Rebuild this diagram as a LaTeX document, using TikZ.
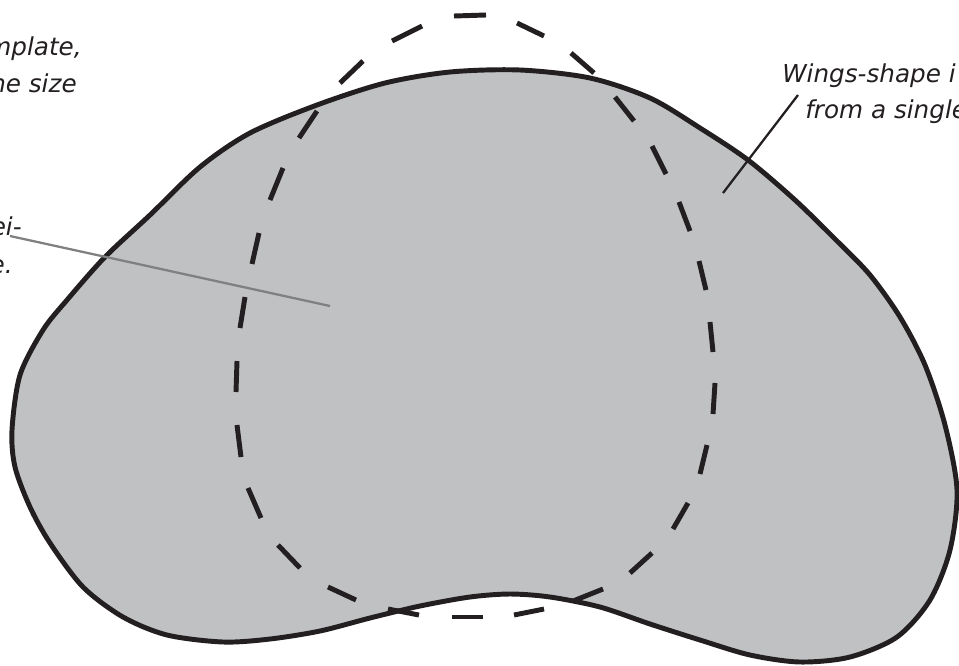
\documentclass[tikz,border=0pt]{standalone}
\usepackage{fontspec}
\setmainfont{DejaVu Sans}
\usetikzlibrary{positioning}
\definecolor{wing-gray}{RGB}{192, 193, 195}
\definecolor{ink-black}{RGB}{35, 31, 32}
\definecolor{lead-gray}{RGB}{128, 128, 130}
\begin{document}
\begin{tikzpicture}[
  x=0.75pt,y=-0.75pt,
  label/.style={inner sep=0pt,font=\itshape\fontsize{18.5}{27}\selectfont,text=ink-black},
  outline/.style={draw=ink-black,line width=3.7pt,fill=wing-gray},
  foldline/.style={draw=ink-black,line width=3.7pt},
  leader/.style={line width=1.7pt}
]
  \useasboundingbox (0,0) rectangle (959,665);
  \clip (0,0) rectangle (959,665);
  % wing shape
  \draw[outline] plot[smooth cycle,tension=0.5] coordinates {
    (12,430) (20,375) (43,330) (67,300) (105,257) (150,215) (200,167) (250,133) (317,105)
    (385,83) (450,72) (520,70) (590,78) (650,98) (700,128) (748,160) (795,200) (838,242)
    (870,275) (900,317) (925,365) (945,425) (957,490) (950,550) (930,600) (897,637)
    (850,657) (800,662) (750,655) (700,640) (650,624) (600,607) (550,597) (510,594)
    (470,597) (420,606) (370,618) (320,631) (270,639) (223,642) (167,635) (123,617)
    (83,587) (50,543) (30,507) (15,467)};
  % labels
  \node[label,anchor=base east] (templ) at (82,55) {mplate,};
  \node[label,anchor=base east] (size)  at (77,92) {ne size};
  \node[label,anchor=base east] (wei)   at (22,235) {ei-};
  \node[label,anchor=base east] (pe)    at (13,273) {e.};
  \node[label,anchor=base west] (wings) at (782,82)  {Wings-shape i};
  \node[label,anchor=base west] (from)  at (805,118) {from a single};
  \coordinate (wei-end)   at (10,236);
  \coordinate (wei-tip)   at (330,306);
  \coordinate (wings-end) at (798,95);
  \coordinate (wings-tip) at (723,193);
  \draw[leader,draw=lead-gray] (wei-end) -- (wei-tip);
  \draw[leader,draw=ink-black] (wings-end) -- (wings-tip);
  % fold line
  \foreach \xa/\ya/\xb/\yb in {
    454/16/486/15, 517/23/544/36, 571/53/594/73, 615/97/634/121, 652/146/666/174,
    679/202/690/231, 699/261/706/290, 710/322/713/352, 715/383/713/414, 707/445/700/474,
    688/503/673/529, 652/553/630/573, 603/589/573/601, 544/609/514/615, 483/617/452/617,
    419/615/388/609, 356/600/328/587, 300/568/278/545, 261/518/248/488, 241/457/237/425,
    236/392/237/361, 240/328/245/297, 252/264/259/233, 270/200/283/168, 299/138/317/111,
    340/83/363/61, 392/41/422/26}
    \draw[foldline] (\xa,\ya) -- (\xb,\yb);
\end{tikzpicture}
\end{document}
